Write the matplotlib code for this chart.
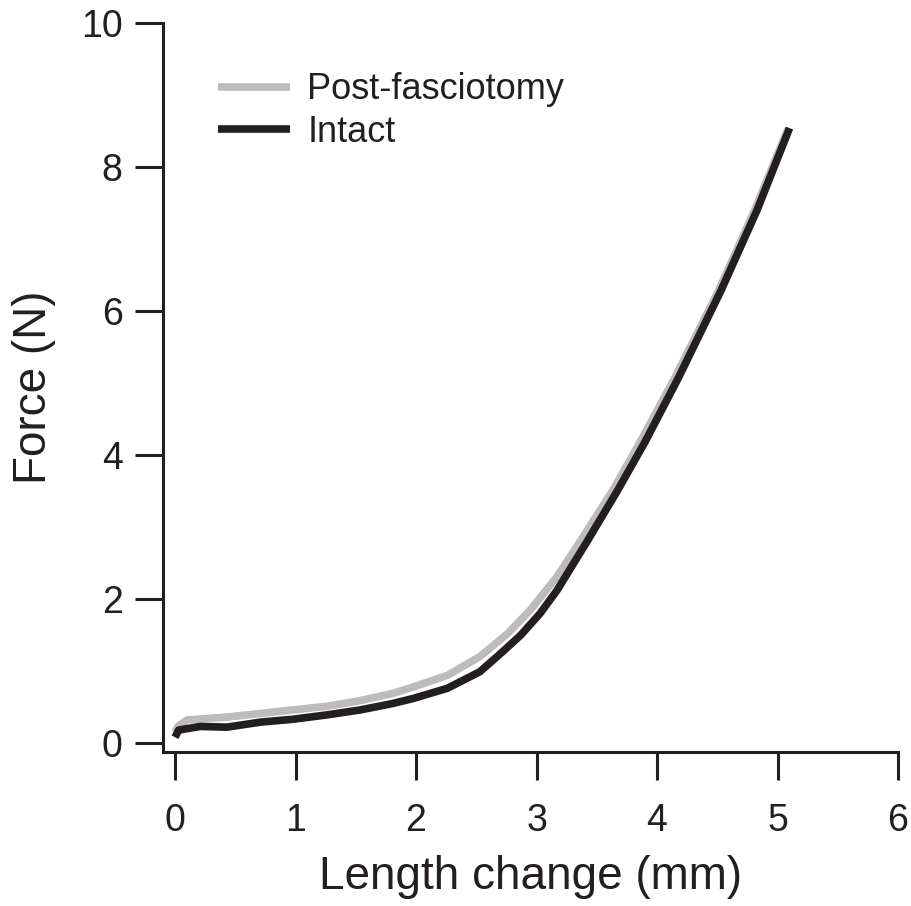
import matplotlib
matplotlib.use("Agg")
import matplotlib.pyplot as plt

# Data
intact_x = [0.0, 0.03, 0.21, 0.43, 0.71, 0.98, 1.26, 1.54, 1.81, 1.98, 2.26, 2.53, 2.72, 2.87, 3.03, 3.17, 3.42, 3.67, 3.90, 4.18, 4.53, 4.83, 5.10]
intact_y = [0.08, 0.18, 0.23, 0.22, 0.29, 0.33, 0.39, 0.46, 0.55, 0.62, 0.76, 0.99, 1.27, 1.50, 1.80, 2.12, 2.80, 3.50, 4.18, 5.08, 6.28, 7.40, 8.54]

post_x = [0.0, 0.03, 0.10, 0.43, 0.71, 0.98, 1.26, 1.54, 1.81, 1.98, 2.26, 2.53, 2.76, 2.95, 3.17, 3.37, 3.63, 3.86, 4.15, 4.51, 4.81, 5.09]
post_y = [0.15, 0.24, 0.32, 0.36, 0.41, 0.46, 0.51, 0.59, 0.69, 0.78, 0.94, 1.20, 1.52, 1.85, 2.31, 2.82, 3.50, 4.18, 5.08, 6.28, 7.40, 8.54]

x_ticks = [0, 1, 2, 3, 4, 5, 6]
y_ticks = [0, 2, 4, 6, 8, 10]

ink = "#231f20"
gray = "#bcbcbc"

plt.rcParams['font.family'] = ['Liberation Sans', 'DejaVu Sans']

fig = plt.figure(figsize=(9.12, 9.06), dpi=100)
ax = fig.add_axes([163/912, 1 - 752/906, (898-163)/912, (752-23)/906])

ax.plot(post_x, post_y, color=gray, lw=5.5, solid_capstyle='butt',
        solid_joinstyle='round', label='Post-fasciotomy')
ax.plot(intact_x, intact_y, color=ink, lw=5.5, solid_capstyle='butt',
        solid_joinstyle='round', label='Intact')

ax.set_xlim(-0.1, 6)
ax.set_ylim(-0.125, 10)
ax.set_xticks(x_ticks)
ax.set_yticks(y_ticks)

for s in ['top', 'right']:
    ax.spines[s].set_visible(False)
for s in ['left', 'bottom']:
    ax.spines[s].set_linewidth(2.2)
    ax.spines[s].set_color(ink)

ax.tick_params(axis='both', direction='out', length=20, width=2.2, color=ink,
               labelsize=27, labelcolor=ink)
ax.tick_params(axis='x', pad=17)
ax.tick_params(axis='y', pad=9)

ax.set_xlabel('Length change (mm)', fontsize=33, color=ink, labelpad=11)
ax.set_ylabel('Force (N)', fontsize=33, color=ink, labelpad=18)

leg = ax.legend(loc='center left', bbox_to_anchor=((218-163)/(898-163), (752-111)/(752-23)),
                frameon=False, fontsize=26, handlelength=2.0, handletextpad=0.47,
                borderpad=0, borderaxespad=0, labelspacing=0.2)
for t in leg.get_texts():
    t.set_color(ink)

fig.savefig('out.png', dpi=100, facecolor='white')
